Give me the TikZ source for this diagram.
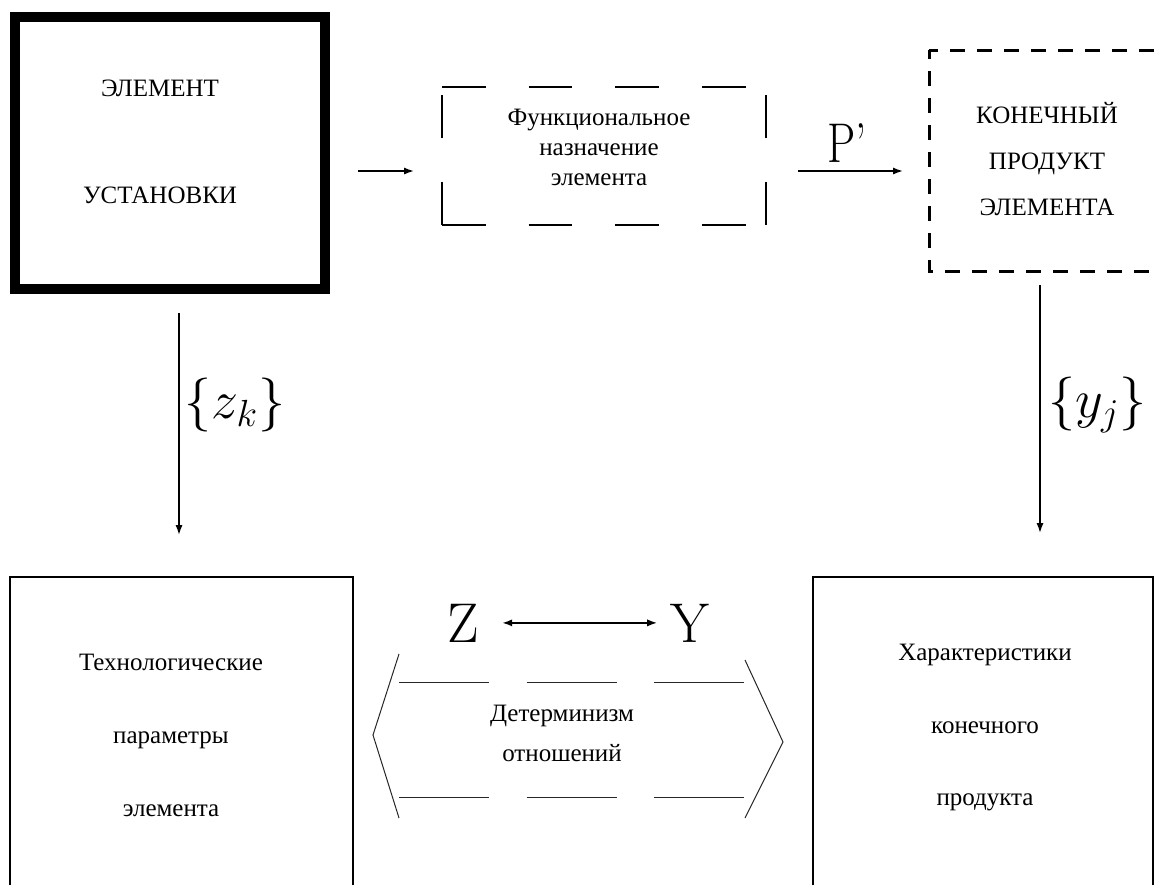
\RequirePackage{fix-cm}
\documentclass[tikz,border=0pt]{standalone}
\usepackage{fontspec}
\setmainfont{Liberation Serif}
\newfontfamily\lmr{Latin Modern Roman}
\usetikzlibrary{arrows.meta}
\begin{document}
\begin{tikzpicture}[x=0.5pt,y=-0.5pt,
  txt/.style={align=center,inner sep=0pt,font=\rmfamily\fontsize{12.5}{#1}\selectfont},
  bigl/.style={inner sep=0pt,font=\fontsize{28}{32}\lmr},
  mathl/.style={inner sep=0pt,font=\fontsize{27}{31}\selectfont},
  frame/.style={inner sep=0pt,outer sep=0pt},
  thickbox/.style={frame,draw,line width=5pt},
  plainbox/.style={frame,draw,line width=1pt},
  fndash/.style={line width=0.85pt,dash pattern=on 21.75pt off 21.6pt},
  kpdash/.style={line width=1.5pt,dash pattern=on 7.5pt off 6pt,dash phase=3pt},
  hexline/.style={line width=0.5pt,black!85},
  hexdash/.style={line width=0.5pt,black!85,dash pattern=on 45pt off 18.75pt},
  arr/.style={line width=0.85pt,-{Latex[length=5pt,width=3.6pt]}},
  arrb/.style={line width=0.85pt,{Latex[length=5pt,width=3.6pt]}-{Latex[length=5pt,width=3.6pt]}}
]
\clip (0,0) rectangle (1161,884);
% top row
\node[thickbox,minimum width=155pt,minimum height=136.25pt] (el) at (170,152.75) {};
\node[txt=53.5pt] (elt) at (160,141.5) {ЭЛЕМЕНТ\\УСТАНОВКИ};

\node[frame,minimum width=162pt,minimum height=69pt] (fn) at (604,156) {};
\draw[fndash] (fn.north west) -- (fn.north east);
\draw[fndash] (fn.south west) -- (fn.south east);
\draw[fndash] (fn.south west) -- (fn.north west);
\draw[fndash] (fn.south east) -- (fn.north east);
\node[txt=15pt] (fnt) at (599,147) {Функциональное\\назначение\\элемента};

\node[frame,minimum width=125.5pt,minimum height=110.5pt] (kp) at (1054.5,160.5) {};
\draw[kpdash] (kp.north west) -- (kp.north east);
\draw[kpdash] (kp.north west) -- (kp.south west) -- (kp.south east);
\node[txt=23pt] (kpt) at (1047,159) {КОНЕЧНЫЙ\\ПРОДУКТ\\ЭЛЕМЕНТА};

\draw[arr,shorten <=16.5pt,shorten >=14pt] ([yshift=-9.125pt]el.east) -- ([yshift=-7.5pt]fn.west);
\draw[arr,shorten <=16pt,shorten >=13pt] ([yshift=-7.5pt]fn.east) -- ([yshift=-5.25pt]kp.west);
\node[bigl,anchor=base] (p) at (847,162) {\scalebox{0.8}[1]{P’}};

% bottom row
\node[plainbox,minimum width=171.5pt,minimum height=161.5pt] (tp) at (181.5,738.5) {};
\node[txt=36.5pt] (tpt) at (171,735) {Технологические\\параметры\\элемента};

\node[plainbox,minimum width=170pt,minimum height=161.5pt] (kh) at (983,738.5) {};
\node[txt=36.25pt] (kht) at (985,727.5) {Характеристики\\конечного\\продукта};

% vertical arrows
\draw[arr,shorten <=12pt,shorten >=21pt] ([xshift=4.5pt]el.south) -- ([xshift=-1.25pt]tp.north);
\draw[arr,shorten <=7pt,shorten >=22pt] ([xshift=-7.25pt]kp.south) -- ([xshift=28.5pt]kh.north);
\node[mathl] (zk) at (235,405) {$\{z_k\}$};
\node[mathl] (yj) at (1097.5,405) {$\{y_j\}$};

% middle: determinism
\node[bigl,anchor=base] (Z) at (463,642) {Z};
\node[bigl,anchor=base] (Y) at (690,642) {Y};
\draw[arrb,shorten <=11.5pt,shorten >=6.5pt] (Z.east) -- (Y.west);
\draw[hexline] (399,654) -- (373,735) -- (399,818);
\draw[hexline] (745,660) -- (783,742) -- (745,818);
\draw[hexdash] (399,682) -- (745,682);
\draw[hexdash] (399,797) -- (745,797);
\node[txt=20pt] (dt) at (562,733) {Детерминизм\\отношений};
\end{tikzpicture}
\end{document}
